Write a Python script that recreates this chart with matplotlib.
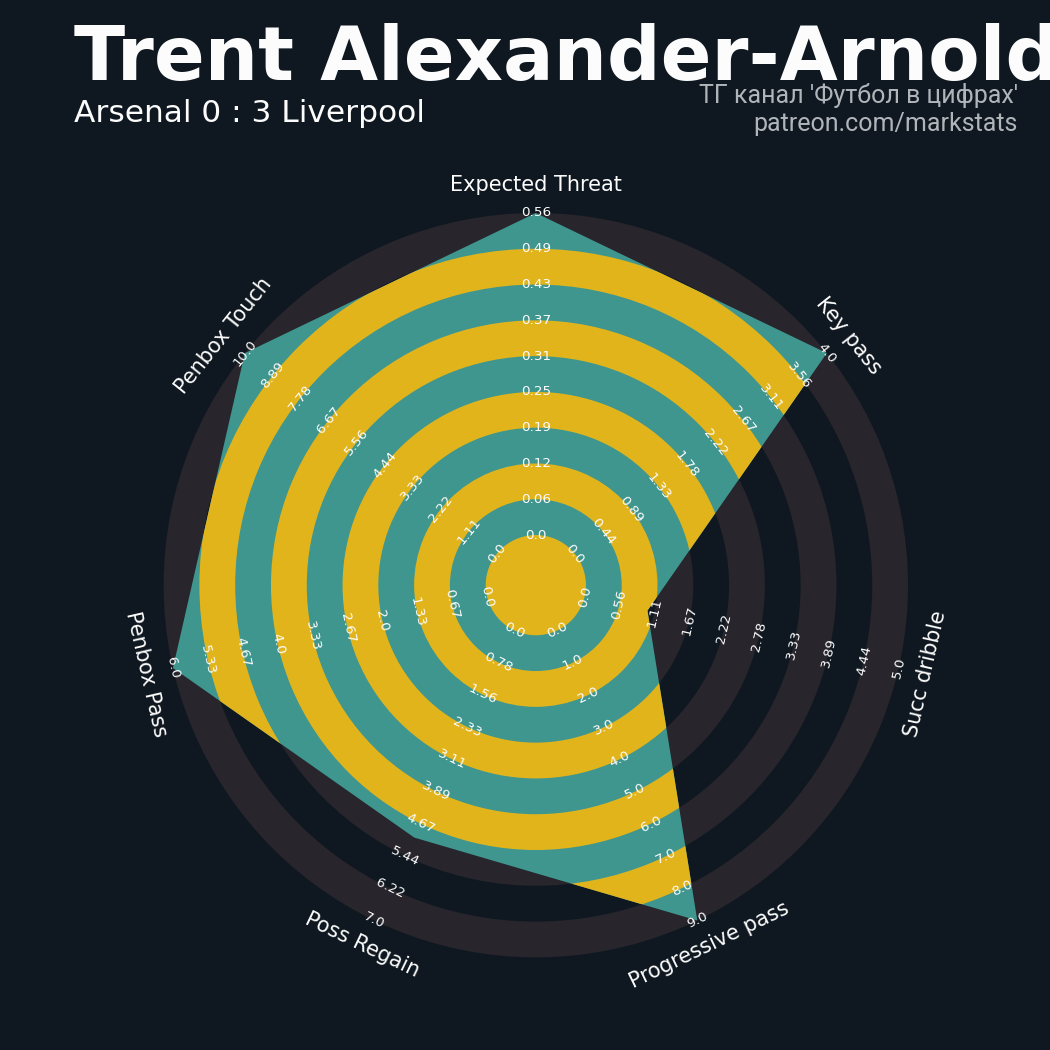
import numpy as np
import matplotlib.pyplot as plt
from matplotlib.patches import Wedge, Circle, Polygon

params = ['Expected Threat', 'Key pass', 'Succ dribble', 'Progressive pass',
          'Poss Regain', 'Penbox Pass', 'Penbox Touch']
values = [0.556, 4, 1, 9, 5, 6, 10]
low = [0, 0, 0, 0, 0, 0, 0]
high = [0.556, 4, 5, 9, 7, 6, 10]

bg = '#0f1820'
ring_grey = '#28252c'
teal = '#3e968f'
yellow = '#e2b41c'

num_rings = 9
ring_width = 1
center_r = 1.4
max_r = center_r + num_rings * ring_width

n = len(params)
angles_deg = 90 - np.arange(n) * 360 / n
angles = np.deg2rad(angles_deg)


def scale(v, lo, hi):
    return center_r + (v - lo) / (hi - lo) * (max_r - center_r)


def tangent_rotation(a):
    rot = a - 90
    rot = (rot + 180) % 360 - 180
    if rot > 90:
        rot -= 180
    elif rot < -90:
        rot += 180
    return rot


fig = plt.figure(figsize=(10.5, 10.5), dpi=100, facecolor=bg)
ax = fig.add_axes([0.1013, 0.0337, 0.818, 0.818])
ax.set_facecolor(bg)
ax.set_xlim(-12, 12)
ax.set_ylim(-12, 12)
ax.set_aspect('equal')
ax.axis('off')

# background rings
for i in range(num_rings):
    if i % 2 == 0:
        r_out = center_r + (i + 1) * ring_width
        ax.add_patch(Wedge((0, 0), r_out, 0, 360, width=ring_width,
                           facecolor=ring_grey, edgecolor='none', zorder=1))

# radar polygon
radii = np.array([scale(v, lo, hi) for v, lo, hi in zip(values, low, high)])
xy = np.column_stack([radii * np.cos(angles), radii * np.sin(angles)])
radar = Polygon(xy, closed=True, facecolor=teal, edgecolor='none', zorder=2)
ax.add_patch(radar)

# rings inside radar
inner = [Circle((0, 0), center_r, facecolor=yellow, edgecolor='none', zorder=3)]
for i in range(num_rings):
    if i % 2 == 1:
        r_out = center_r + (i + 1) * ring_width
        inner.append(Wedge((0, 0), r_out, 0, 360, width=ring_width,
                           facecolor=yellow, edgecolor='none', zorder=3))
for p in inner:
    ax.add_patch(p)
    p.set_clip_path(radar)

# range labels
for a, ad, lo, hi in zip(angles, angles_deg, low, high):
    rot = tangent_rotation(ad)
    for k in range(num_rings + 1):
        r = center_r + k * (max_r - center_r) / num_rings
        val = lo + k * (hi - lo) / num_rings
        ax.text(r * np.cos(a), r * np.sin(a), str(round(val, 2)), rotation=rot,
                ha='center', va='center', fontsize=9.7, color='#fcfcfc',
                rotation_mode='anchor', zorder=5)

# param labels
for a, ad, name in zip(angles, angles_deg, params):
    r = max_r + 0.77
    ax.text(r * np.cos(a), r * np.sin(a), name, rotation=tangent_rotation(ad),
            ha='center', va='center', fontsize=15, color='#fcfcfc',
            rotation_mode='anchor', zorder=5)

fig.text(74 / 1050, 1 - 80 / 1050, 'Trent Alexander-Arnold', fontsize=54,
         fontweight='bold', color='#fcfcfc', ha='left', va='baseline')
fig.text(74 / 1050, 1 - 122 / 1050, 'Arsenal 0 : 3 Liverpool', fontsize=22.5,
         color='#fcfcfc', ha='left', va='baseline')
fig.text(1018 / 1050, 1 - 103 / 1050, "ТГ канал 'Футбол в цифрах'", fontsize=18,
         family='Roboto', color='#b0b5ba', ha='right', va='baseline')
fig.text(1018 / 1050, 1 - 131 / 1050, 'patreon.com/markstats', fontsize=18,
         family='Roboto', color='#b0b5ba', ha='right', va='baseline')

fig.savefig('out.png', dpi=100, facecolor=bg)
